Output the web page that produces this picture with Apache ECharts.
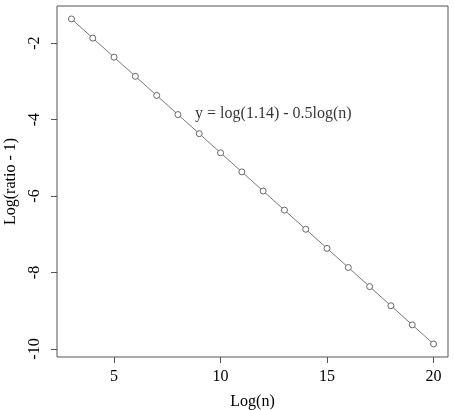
<!DOCTYPE html>
<html><head><meta charset="utf-8">
<script src="https://cdn.jsdelivr.net/npm/echarts@6/dist/echarts.min.js"></script>
<style>html,body{margin:0;padding:0;background:#fff}#c{width:454px;height:410px}</style>
</head><body><div id="c"></div>
<script>
const nValues = [3,4,5,6,7,8,9,10,11,12,13,14,15,16,17,18,19,20];
const logRatio = [-1.369,-1.869,-2.369,-2.869,-3.369,-3.869,-4.369,-4.869,-5.369,-5.869,-6.369,-6.869,-7.369,-7.869,-8.369,-8.869,-9.369,-9.869];
const xTicks = [5,10,15,20];
const yTicks = [-10,-8,-6,-4,-2];
const annotation = {x: 12.48, y: -3.85, text: 'y = log(1.14) - 0.5log(n)'};

const chart = echarts.init(document.getElementById('c'));
const font = 'Liberation Serif';
const pts = nValues.map((n,i)=>[n, logRatio[i]]);
chart.setOption({
  animation:false,
  grid:{left:57,right:6,top:6,bottom:53,show:true,borderColor:'#555',borderWidth:1,containLabel:false,outerBoundsMode:'none'},
  xAxis:{type:'value',min:2.32,max:20.68,
    axisLine:{show:false},splitLine:{show:false},
    axisTick:{show:true,length:6,customValues:xTicks,lineStyle:{color:'#555'}},
    axisLabel:{customValues:xTicks,fontFamily:font,fontSize:16,color:'#000',margin:12},
    name:'Log(n)',nameLocation:'middle',nameGap:37,nameTextStyle:{fontFamily:font,fontSize:16,color:'#000'}},
  yAxis:{type:'value',min:-10.21,max:-1.03,
    axisLine:{show:false},splitLine:{show:false},
    axisTick:{show:true,length:6,customValues:yTicks,lineStyle:{color:'#555'}},
    axisLabel:{customValues:yTicks,fontFamily:font,fontSize:16,color:'#000',rotate:90,margin:14},
    name:'Log(ratio - 1)',nameLocation:'middle',nameGap:38,nameTextStyle:{fontFamily:font,fontSize:16,color:'#000'}},
  series:[
    {type:'line',data:pts,symbol:'circle',symbolSize:6,showSymbol:true,
     lineStyle:{color:'#777',width:1},
     itemStyle:{color:'#fff',borderColor:'#666',borderWidth:1}},
    {type:'scatter',data:[[annotation.x,annotation.y]],symbolSize:0,
     label:{show:true,position:'inside',formatter:annotation.text,fontFamily:font,fontSize:16,color:'#000'}}
  ]
});
</script></body></html>
